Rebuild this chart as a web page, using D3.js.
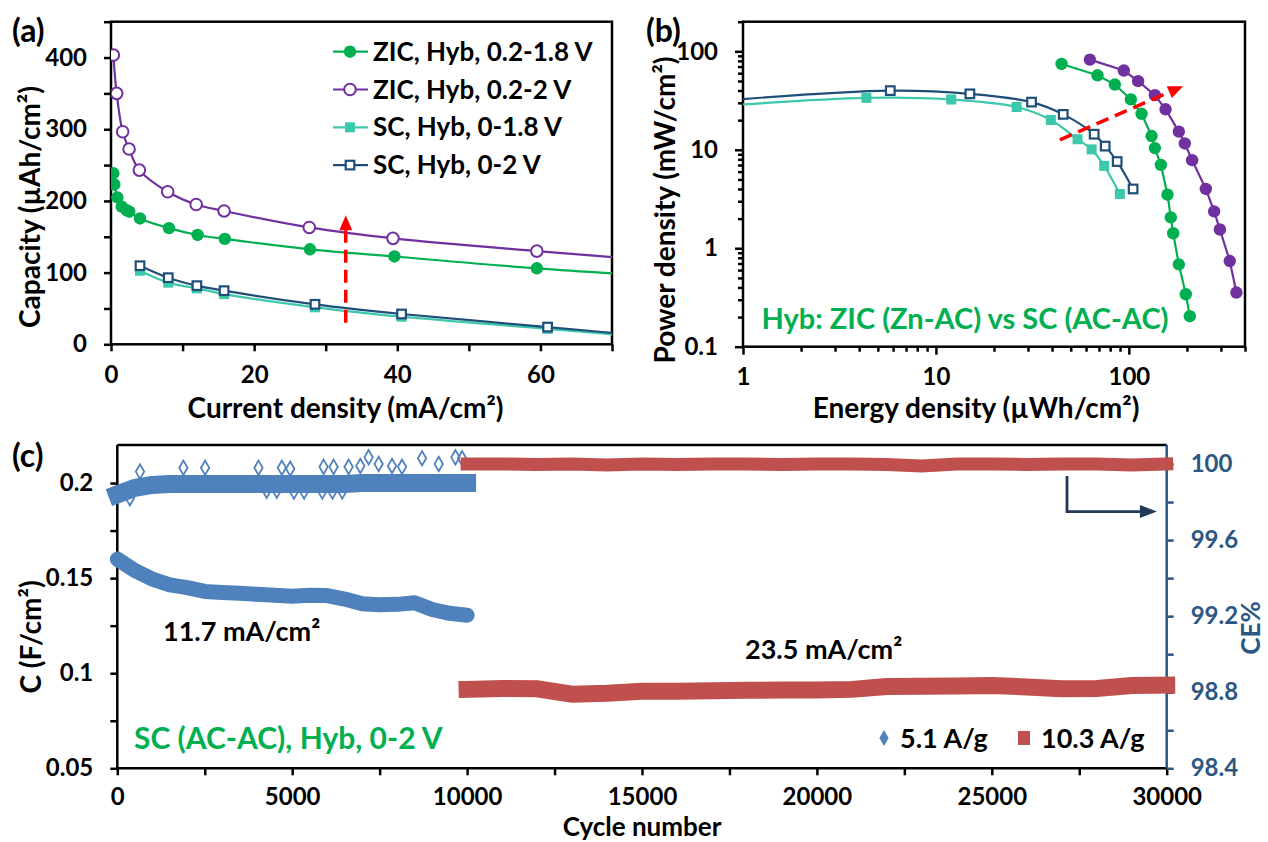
<!DOCTYPE html>
<html><head><meta charset="utf-8">
<script src="https://cdn.jsdelivr.net/npm/d3@7"></script>
<style>body{margin:0;background:#fff;} svg{display:block;}</style>
</head><body>
<svg id="chart" width="1268" height="842"></svg>
<script>
// ---------------- DATA ----------------
// Panel (a): capacity vs current density
const aZic18Cur=[0.33,0.47,0.89,1.49,2.19,2.56,4.05,8.1,12.1,15.9,27.8,39.6,59.5,80];
const aZic18Cap=[238.5,223,205,192,187,185,175.5,162,152.5,147,132.5,122.5,106,93];
const aZic2Cur=[0.33,0.79,1.63,2.52,3.96,7.92,11.9,15.8,27.7,39.4,59.5,80];
const aZic2Cap=[403.5,350,296.5,272.4,243,212.8,195,186,163,147.8,130,114];
const aSc18Cur=[4.05,8.0,12.0,15.8,28.5,40.6,61,80];
const aSc18Cap=[102.6,86,78,70,51.6,38.5,21.5,5.5];
const aSc2Cur=[4.05,8.0,12.0,15.8,28.5,40.6,61,80];
const aSc2Cap=[109.6,92.9,81.8,74.8,55.8,42.3,24,7];
const aLegend=["ZIC, Hyb, 0.2-1.8 V","ZIC, Hyb, 0.2-2 V","SC, Hyb, 0-1.8 V","SC, Hyb, 0-2 V"];
const aXTicks=[0,10,20,30,40,50,60,70];
const aYTicks=[0,50,100,150,200,250,300,350,400,450];
const aArrowX=[32.8,32.8], aArrowY=[30,180];

// Panel (b): Ragone plot
const bSc2E=[0.7,5.8,15.0,31.3,45.7,66.1,75.4,87,105.2];
const bSc2P=[31,39.9,37,30.5,22.9,14.4,10.9,7.6,4.0];
const bSc18E=[0.7,4.36,12.0,26.2,39.4,54.2,64.1,74.5,89.8];
const bSc18P=[27.5,33.7,32.4,27.2,20.1,12.8,10.1,6.87,3.56];
const bZic18E=[44.8,68.8,84.6,102.4,116.4,131.2,136.4,146.5,158.6,165,169.7,181.6,197.3,207];
const bZic18P=[74.4,57.1,46.0,32.5,23.2,13.8,10.4,7.03,3.5,2.06,1.42,0.686,0.341,0.204];
const bZic2E=[62.8,94.2,111.7,136.4,155,181.6,195,212.8,250.6,276.7,296.4,333.6,361];
const bZic2P=[82.4,63.8,49.8,35.9,25.8,15.3,11.6,7.85,4.0,2.37,1.55,0.741,0.355];
const bXMajor=[1,10,100];
const bXMinor=[2,3,4,5,6,7,8,9,20,30,40,50,60,70,80,90,200,300,400];
const bYMajor=[0.1,1,10,100];
const bYMinor=[0.2,0.3,0.4,0.5,0.6,0.7,0.8,0.9,2,3,4,5,6,7,8,9,20,30,40,50,60,70,80,90,200];
const bArrowE=[43.9,191], bArrowP=[12.6,44.3];

// Panel (c): cycling
const cBlueCycles=[0,500,1000,1500,2000,2500,3000,3500,4000,4500,5000,5500,6000,6500,7000,7500,8000,8500,9000,9500,10000];
const cBlueCap=[0.160,0.154,0.1495,0.1465,0.145,0.143,0.1425,0.142,0.1415,0.141,0.1405,0.141,0.1408,0.139,0.1365,0.136,0.1362,0.137,0.1335,0.1315,0.1305];
const cBlueCE=[99.84,99.875,99.89,99.895,99.895,99.895,99.895,99.895,99.895,99.895,99.895,99.895,99.895,99.895,99.9,99.9,99.9,99.9,99.9,99.9,99.9];
const cBlueOutCycles=[649,1889,2510,4036,4704,4943,5897,6183,6613,6947,7185,7471,7853,8140,8712,9189,9666,9857,360,4270,4560,5050,5340,5860,6150,6430];
const cBlueOutCE=[99.96,99.98,99.98,99.98,99.98,99.975,99.985,99.985,99.985,99.99,100.035,100.0,99.99,99.985,100.03,100.0,100.035,100.03,99.82,99.86,99.86,99.855,99.855,99.855,99.855,99.855];
const cRedCycles=[10000,11000,12000,13000,14000,15000,16000,17000,18000,19000,20000,21000,22000,23000,24000,25000,26000,27000,28000,29000,30000];
const cRedCap=[0.0915,0.092,0.0918,0.089,0.0895,0.0905,0.0905,0.0908,0.091,0.0912,0.0912,0.0915,0.093,0.0932,0.0933,0.0936,0.0928,0.0918,0.092,0.0935,0.0937];
const cRedCE=[100.0,100.0,99.998,100.0,99.995,100.0,99.998,100.0,100.0,99.998,100.0,100.0,99.998,99.99,100.0,100.0,99.998,100.0,100.0,99.995,100.0];
const cXTicks=[0,2500,5000,7500,10000,12500,15000,17500,20000,22500,25000,27500,30000];
const cYLTicks=[0.05,0.075,0.1,0.125,0.15,0.175,0.2];
const cYLLabels=["0.05","","0.1","","0.15","","0.2"];
const cYRTicks=[98.4,98.6,98.8,99,99.2,99.4,99.6,99.8,100];
const cYRLabels=["98.4","","98.8","","99.2","","99.6","","100"];
const cLegend=["5.1 A/g","10.3 A/g"];
const cArrowCycles=[27150,27150,29720], cArrowCE=[99.937,99.75,99.75];

// ---------------- STYLE ----------------
const FONT='Lato, "Open Sans", "DejaVu Sans", sans-serif';
const TICK=24;
const C_GREEN='#00B050', C_PURPLE='#7030A0', C_TEAL='#3CC8AA', C_NAVY='#1F4E79';
const C_BLUE='#4F81BD', C_RED='#C0504D', C_AXR='#2B5783', C_ARROW='#203A5A';
const svg=d3.select('#chart');
svg.append('rect').attr('width',1268).attr('height',842).attr('fill','#fff');

function styleAxis(g,color){
  g.select('.domain').remove();
  g.attr('font-family',FONT).attr('font-size',TICK).attr('font-weight',700);
  g.selectAll('.tick line').attr('stroke',color).attr('stroke-width',2.5);
  g.selectAll('.tick text').attr('fill',color);
}
function label(x,y,s,size,color,anchor,rot){
  const t=svg.append('text').attr('font-family',FONT).attr('font-weight',700)
    .attr('font-size',size).attr('fill',color||'#000').attr('text-anchor',anchor||'start');
  if(rot){t.attr('transform',`translate(${x},${y}) rotate(${rot})`);}else{t.attr('x',x).attr('y',y);}
  t.text(s);return t;
}
function arrowHead(g,x1,y1,x2,y2,len,wid,color){
  const a=Math.atan2(y2-y1,x2-x1);
  const bx=x2-len*Math.cos(a), by=y2-len*Math.sin(a);
  const px=-Math.sin(a)*wid/2, py=Math.cos(a)*wid/2;
  g.append('path').attr('d',`M${x2},${y2}L${bx+px},${by+py}L${bx-px},${by-py}Z`).attr('fill',color);
  return [bx,by];
}
const zip=(a,b)=>a.map((v,i)=>[v,b[i]]);

// ---------------- PANEL (a) ----------------
const ax=d3.scaleLinear().domain([0,70]).range([111,612]);
const ay=d3.scaleLinear().domain([0,450]).range([344.3,21.7]);
svg.append('clipPath').attr('id','clipA').append('rect')
  .attr('x',ax(0)).attr('y',ay(450)).attr('width',ax(70)-ax(0)).attr('height',ay(0)-ay(450));
styleAxis(svg.append('g').attr('transform',`translate(0,${ay(0)})`)
  .call(d3.axisBottom(ax).tickValues(aXTicks).tickFormat(d=>d%20===0?d:'').tickSize(7).tickPadding(15).tickSizeOuter(0)),'#000');
styleAxis(svg.append('g').attr('transform',`translate(${ax(0)},0)`)
  .call(d3.axisLeft(ay).tickValues(aYTicks).tickFormat(d=>d%100===0?d:'').tickSize(7).tickPadding(17).tickSizeOuter(0)),'#000');
svg.append('rect').attr('x',ax(0)).attr('y',ay(450)).attr('width',ax(70)-ax(0)).attr('height',ay(0)-ay(450))
  .attr('fill','none').attr('stroke','#000').attr('stroke-width',2.5);

const pa=svg.append('g').attr('clip-path','url(#clipA)');
const lineA=d3.line().x(d=>ax(d[0])).y(d=>ay(d[1])).curve(d3.curveCatmullRom.alpha(0.5));
const aSeries=[
  {d:zip(aSc18Cur,aSc18Cap),c:C_TEAL,m:'sqFill'},
  {d:zip(aSc2Cur,aSc2Cap),c:C_NAVY,m:'sqOpen'},
  {d:zip(aZic18Cur,aZic18Cap),c:C_GREEN,m:'cFill'},
  {d:zip(aZic2Cur,aZic2Cap),c:C_PURPLE,m:'cOpen'}];
function drawMarker(g,m,c,x,y){
  if(m==='cFill') g.append('circle').attr('cx',x).attr('cy',y).attr('r',6.2).attr('fill',c);
  else if(m==='cOpen') g.append('circle').attr('cx',x).attr('cy',y).attr('r',5.8).attr('fill','#fff').attr('stroke',c).attr('stroke-width',2);
  else if(m==='sqFill') g.append('rect').attr('x',x-5).attr('y',y-5).attr('width',10).attr('height',10).attr('fill',c);
  else if(m==='sqOpen') g.append('rect').attr('x',x-4.3).attr('y',y-4.3).attr('width',8.6).attr('height',8.6).attr('fill','#fff').attr('stroke',c).attr('stroke-width',2.2);
}
aSeries.forEach(s=>{
  pa.append('path').attr('d',lineA(s.d)).attr('fill','none').attr('stroke',s.c).attr('stroke-width',2.2);
});
aSeries.forEach(s=>{ s.d.forEach(p=>drawMarker(pa,s.m,s.c,ax(p[0]),ay(p[1]))); });
// red dashed arrow (a)
{
  const g=svg.append('g');
  const x=ax(aArrowX[0]);
  const [bx,by]=arrowHead(g,x,ay(aArrowY[0]),x,ay(aArrowY[1]),15,13,'#FF0000');
  g.append('line').attr('x1',x).attr('y1',ay(aArrowY[0])).attr('x2',bx).attr('y2',by)
    .attr('stroke','#FF0000').attr('stroke-width',3.5).attr('stroke-dasharray','13,7');
}
// legend (a)
const legY=[51.7,89.5,127.3,165.1];
const legMarks=['cFill','cOpen','sqFill','sqOpen'], legCols=[C_GREEN,C_PURPLE,C_TEAL,C_NAVY];
aLegend.forEach((t,i)=>{
  svg.append('line').attr('x1',333).attr('x2',368).attr('y1',legY[i]).attr('y2',legY[i]).attr('stroke',legCols[i]).attr('stroke-width',2.2);
  drawMarker(svg,legMarks[i],legCols[i],350,legY[i]);
  label(373,legY[i]+9,t,26,'#000');
});
label(12,42,'(a)',32,'#000');
label(ax(35)-16,418,'Current density (mA/cm²)',28,'#000','middle');
label(40,207,'Capacity (µAh/cm²)',28,'#000','middle',-90);

// ---------------- PANEL (b) ----------------
const bx=d3.scaleLog().domain([1,400]).range([743,1245]);
const by=d3.scaleLog().domain([0.1,200]).range([346.7,21.7]);
svg.append('clipPath').attr('id','clipB').append('rect')
  .attr('x',bx(1)).attr('y',by(200)).attr('width',bx(400)-bx(1)).attr('height',by(0.1)-by(200));
styleAxis(svg.append('g').attr('transform',`translate(0,${by(0.1)})`)
  .call(d3.axisBottom(bx).tickValues(bXMinor).tickFormat(()=>'').tickSize(5).tickSizeOuter(0)),'#000');
styleAxis(svg.append('g').attr('transform',`translate(0,${by(0.1)})`)
  .call(d3.axisBottom(bx).tickValues(bXMajor).tickFormat(d=>String(d)).tickSize(8).tickPadding(13).tickSizeOuter(0)),'#000');
styleAxis(svg.append('g').attr('transform',`translate(${bx(1)},0)`)
  .call(d3.axisLeft(by).tickValues(bYMinor).tickFormat(()=>'').tickSize(5).tickSizeOuter(0)),'#000');
styleAxis(svg.append('g').attr('transform',`translate(${bx(1)},0)`)
  .call(d3.axisLeft(by).tickValues(bYMajor).tickFormat(d=>String(d)).tickSize(8).tickPadding(17).tickSizeOuter(0)),'#000');
svg.append('rect').attr('x',bx(1)).attr('y',by(200)).attr('width',bx(400)-bx(1)).attr('height',by(0.1)-by(200))
  .attr('fill','none').attr('stroke','#000').attr('stroke-width',2.5);
const pb=svg.append('g').attr('clip-path','url(#clipB)');
const lineBs=d3.line().x(d=>bx(d[0])).y(d=>by(d[1])).curve(d3.curveCatmullRom.alpha(0.5));
const lineBl=d3.line().x(d=>bx(d[0])).y(d=>by(d[1]));
const bSeries=[
  {d:zip(bSc18E,bSc18P),c:C_TEAL,m:'sqFill',ln:lineBs},
  {d:zip(bSc2E,bSc2P),c:C_NAVY,m:'sqOpen',ln:lineBs},
  {d:zip(bZic18E,bZic18P),c:C_GREEN,m:'cFill',ln:lineBl},
  {d:zip(bZic2E,bZic2P),c:C_PURPLE,m:'cFill',ln:lineBl}];
bSeries.forEach(s=>{
  pb.append('path').attr('d',s.ln(s.d)).attr('fill','none').attr('stroke',s.c).attr('stroke-width',2.2);
  s.d.forEach(p=>drawMarker(pb,s.m,s.c,bx(p[0]),by(p[1])));
});
{
  const g=svg.append('g');
  const x1=bx(bArrowE[0]),y1=by(bArrowP[0]),x2=bx(bArrowE[1]),y2=by(bArrowP[1]);
  const [hx,hy]=arrowHead(g,x1,y1,x2,y2,15,13,'#FF0000');
  g.append('line').attr('x1',x1).attr('y1',y1).attr('x2',hx).attr('y2',hy)
    .attr('stroke','#FF0000').attr('stroke-width',3.5).attr('stroke-dasharray','13,7');
}
label(646,42,'(b)',32,'#000');
label(965,329,'Hyb: ZIC (Zn-AC) vs SC (AC-AC)',29,C_GREEN,'middle');
label(976,418,'Energy density (µWh/cm²)',28,'#000','middle');
label(675,210,'Power density (mW/cm²)',28,'#000','middle',-90);

// ---------------- PANEL (c) ----------------
const cx=d3.scaleLinear().domain([0,30000]).range([117.3,1166.7]);
const cyL=d3.scaleLinear().domain([0.05,0.22]).range([768.3,445]);
const cyR=d3.scaleLinear().domain([98.4,100.1]).range([768.3,445]);
styleAxis(svg.append('g').attr('transform',`translate(0,${cyL(0.05)})`)
  .call(d3.axisBottom(cx).tickValues(cXTicks).tickFormat(d=>d%5000===0?d:'').tickSize(7).tickPadding(13).tickSizeOuter(0)),'#000');
styleAxis(svg.append('g').attr('transform',`translate(${cx(0)},0)`)
  .call(d3.axisLeft(cyL).tickValues(cYLTicks).tickFormat((d,i)=>cYLLabels[i]).tickSize(7).tickPadding(17).tickSizeOuter(0)),'#000');
styleAxis(svg.append('g').attr('transform',`translate(${cx(30000)},0)`)
  .call(d3.axisRight(cyR).tickValues(cYRTicks).tickFormat((d,i)=>cYRLabels[i]).tickSize(7).tickPadding(17).tickSizeOuter(0)),C_AXR);
// frame lines
svg.append('line').attr('x1',cx(0)).attr('x2',cx(30000)).attr('y1',cyL(0.22)).attr('y2',cyL(0.22)).attr('stroke','#000').attr('stroke-width',2.5);
svg.append('line').attr('x1',cx(0)).attr('x2',cx(0)).attr('y1',cyL(0.22)).attr('y2',cyL(0.05)).attr('stroke','#000').attr('stroke-width',2.5);
svg.append('line').attr('x1',cx(0)-1).attr('x2',cx(30000)).attr('y1',cyL(0.05)).attr('y2',cyL(0.05)).attr('stroke','#000').attr('stroke-width',2.5);
svg.append('line').attr('x1',cx(30000)).attr('x2',cx(30000)).attr('y1',cyL(0.22)).attr('y2',cyL(0.05)).attr('stroke',C_AXR).attr('stroke-width',2.5);

const pc=svg.append('g');
const lineCL=d3.line().x(d=>cx(d[0])).y(d=>cyL(d[1]));
const lineCR=d3.line().x(d=>cx(d[0])).y(d=>cyR(d[1]));
pc.append('path').attr('d',lineCR(zip(cBlueCycles,cBlueCE))).attr('fill','none').attr('stroke',C_BLUE)
  .attr('stroke-width',18).attr('stroke-linejoin','round').attr('stroke-linecap','square');
pc.selectAll('.bo').data(zip(cBlueOutCycles,cBlueOutCE)).enter().append('path')
  .attr('d',d3.symbol(d3.symbolDiamond,60)()).attr('transform',d=>`translate(${cx(d[0])},${cyR(d[1])})`)
  .attr('fill','none').attr('stroke',C_BLUE).attr('stroke-width',1.8);
pc.append('path').attr('d',lineCL(zip(cBlueCycles,cBlueCap))).attr('fill','none').attr('stroke',C_BLUE)
  .attr('stroke-width',15).attr('stroke-linejoin','round').attr('stroke-linecap','round');
pc.append('path').attr('d',lineCR(zip(cRedCycles,cRedCE))).attr('fill','none').attr('stroke',C_RED)
  .attr('stroke-width',13).attr('stroke-linecap','square');
pc.append('path').attr('d',lineCL(zip(cRedCycles,cRedCap))).attr('fill','none').attr('stroke',C_RED)
  .attr('stroke-width',17).attr('stroke-linecap','square');
// navy arrow
{
  const g=svg.append('g');
  const pts=zip(cArrowCycles,cArrowCE).map(d=>[cx(d[0]),cyR(d[1])]);
  const n=pts.length;
  const [hx,hy]=arrowHead(g,pts[n-2][0],pts[n-2][1],pts[n-1][0],pts[n-1][1],17,13,C_ARROW);
  const path=pts.slice(0,n-1).concat([[hx,hy]]);
  g.append('path').attr('d',d3.line()(path)).attr('fill','none').attr('stroke',C_ARROW).attr('stroke-width',2.8);
}
// legend (c)
svg.append('path').attr('d',d3.symbol(d3.symbolDiamond,75)()).attr('transform','translate(884,738)').attr('fill',C_BLUE);
label(900,748,cLegend[0],27,'#000');
svg.append('rect').attr('x',1018).attr('y',731).attr('width',12).attr('height',14).attr('fill',C_RED);
label(1041,748,cLegend[1],27,'#000');
label(163,641,'11.7 mA/cm²',27,'#000');
label(745,659,'23.5 mA/cm²',27,'#000');
label(134,749,'SC (AC-AC), Hyb, 0-2 V',30,C_GREEN);
label(12,467,'(c)',32,'#000');
label(cx(15000),836,'Cycle number',26,'#000','middle');
label(41,637,'C (F/cm²)',28,'#000','middle',-90);
label(1260,628,'CE%',26,C_AXR,'middle',-90);
</script>
</body></html>
